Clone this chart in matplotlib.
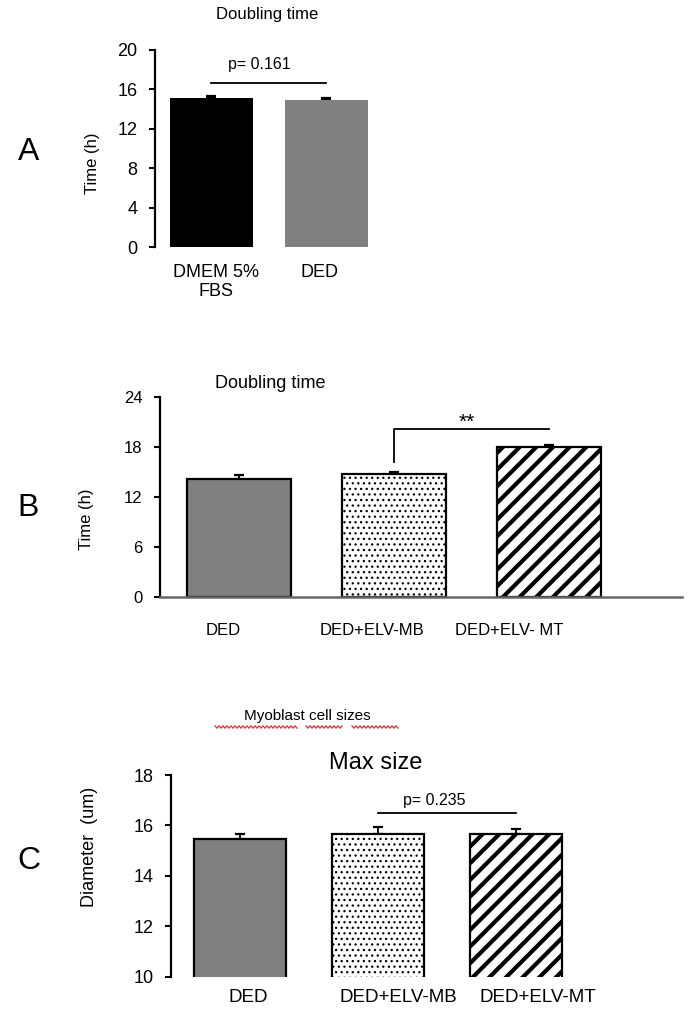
import numpy as np
import matplotlib
matplotlib.use("Agg")
import matplotlib.pyplot as plt
from matplotlib.lines import Line2D

# ---------------- data ----------------
# Panel A
a_title = "Doubling time"
a_categories = ["DMEM 5%\nFBS", "DED"]
a_values = [15.15, 14.9]
a_errors = [0.15, 0.2]
a_yticks = [0, 4, 8, 12, 16, 20]
a_ylabel = "Time (h)"
a_ptext = "p= 0.161"
a_pline_y = 16.6

# Panel B
b_title = "Doubling time"
b_categories = ["DED", "DED+ELV-MB", "DED+ELV- MT"]
b_values = [14.2, 14.76, 17.96]
b_errors = [0.5, 0.25, 0.3]
b_yticks = [0, 6, 12, 18, 24]
b_ylabel = "Time (h)"
b_sig = "**"
b_bracket_low = 16.2
b_bracket_high = 20.2

# Panel C
c_suptitle = "Myoblast cell sizes"
c_title = "Max size"
c_categories = ["DED", "DED+ELV-MB", "DED+ELV-MT"]
c_values = [15.46, 15.67, 15.67]
c_errors = [0.2, 0.25, 0.17]
c_yticks = [10, 12, 14, 16, 18]
c_ylabel = "Diameter  (um)"
c_ptext = "p= 0.235"
c_pline_y = 16.48

# ---------------- figure ----------------
plt.rcParams["font.family"] = ["Liberation Sans", "DejaVu Sans"]
W, H = 688, 1014
fig = plt.figure(figsize=(W / 100, H / 100), dpi=100)
fig.patch.set_facecolor("white")


def fx(x):
    return x / W


def fy(y):
    return 1 - y / H


def style(ax, ylim, yticks, fs):
    for s in ["top", "right", "bottom"]:
        ax.spines[s].set_visible(False)
    ax.spines["left"].set_linewidth(1.6)
    ax.set_ylim(ylim)
    ax.set_yticks(yticks)
    ax.tick_params(axis="y", direction="out", length=4.5, width=1.5,
                   pad=8, labelsize=fs)
    ax.tick_params(axis="x", length=0)
    ax.patch.set_alpha(0)


def errbars(ax, x, vals, errs):
    ax.errorbar(x, vals, yerr=[np.zeros(len(vals)), errs], fmt="none",
                ecolor="black", elinewidth=1.3, capsize=3.5, capthick=1.6,
                zorder=1)


def hatched_bar(ax, x, val, width, hatch, hlw):
    with plt.rc_context({"hatch.linewidth": hlw, "hatch.color": "black"}):
        b = ax.bar(x, val, width=width, color="white", edgecolor="black",
                   linewidth=1.6, hatch=hatch, zorder=2)
    for p in b:
        if hasattr(p, "set_hatch_linewidth"):
            p.set_hatch_linewidth(hlw)
    return b


# ---------- Panel A ----------
axA = fig.add_axes([fx(155), fy(247), 217.5 / W, 197 / H])
xa = np.arange(len(a_categories))
errbars(axA, xa, a_values, a_errors)
axA.bar(xa, a_values, width=0.72, color=["black", "#808080"],
        edgecolor=["black", "#808080"], linewidth=0, zorder=2)
style(axA, (0, 20), a_yticks, 13)
axA.set_xlim(-0.49, 1.4)
axA.set_xticks(xa + np.array([0.04, -0.06]), a_categories, fontsize=13)
axA.tick_params(axis="x", pad=12)
axA.plot([0, 1], [a_pline_y, a_pline_y], color="black", lw=1.3,
         clip_on=False)
axA.text(0.42, 18.5, a_ptext, ha="center", va="center", fontsize=11.5)
axA.set_ylabel(a_ylabel, fontsize=12, va="center")
axA.yaxis.set_label_coords((92 - 155) / 217.5, (247 - 163) / 197)
fig.text(fx(267), fy(15), a_title, ha="center", va="center", fontsize=12)
fig.text(fx(29), fy(152), "A", ha="center", va="center", fontsize=23)

# ---------- Panel B ----------
axB = fig.add_axes([fx(160), fy(597), 521.7 / W, 200 / H])
xb = np.arange(len(b_categories))
errbars(axB, xb, b_values, b_errors)
axB.bar(xb[0], b_values[0], width=0.67, color="#808080", edgecolor="black",
        linewidth=1.6, zorder=2)
hatched_bar(axB, xb[1], b_values[1], 0.67, "...", 0.9)
hatched_bar(axB, xb[2], b_values[2], 0.67, "//", 3.0)
style(axB, (0, 24), b_yticks, 12)
axB.spines["bottom"].set_visible(True)
axB.spines["bottom"].set_color("#666666")
axB.spines["bottom"].set_linewidth(1.8)
axB.set_xlim(-0.51, 2.856)
axB.set_xticks(xb + np.array([-0.1, -0.14, -0.26]), b_categories, fontsize=12)
axB.tick_params(axis="x", pad=19)
axB.plot([1, 1, 2], [b_bracket_low, b_bracket_high, b_bracket_high],
         color="black", lw=1.3, clip_on=False)
axB.text(1.47, 21.0, b_sig, ha="center", va="center", fontsize=15)
axB.set_ylabel(b_ylabel, fontsize=12, va="center")
axB.yaxis.set_label_coords((87 - 160) / 521.7, (597 - 519) / 200)
fig.text(fx(270), fy(383), b_title, ha="center", va="center", fontsize=13)
fig.text(fx(28), fy(508), "B", ha="center", va="center", fontsize=23)

# ---------- Panel C ----------
axC = fig.add_axes([fx(171), fy(976.7), 414 / W, 201.7 / H])
xc = np.arange(len(c_categories))
errbars(axC, xc, c_values, c_errors)
axC.bar(xc[0], c_values[0], width=0.67, color="#808080", edgecolor="black",
        linewidth=1.6, zorder=2)
hatched_bar(axC, xc[1], c_values[1], 0.67, "...", 0.9)
hatched_bar(axC, xc[2], c_values[2], 0.67, "//", 3.0)
style(axC, (10, 18), c_yticks, 13)
axC.set_xlim(-0.5, 2.5)
axC.set_xticks(xc + np.array([0.06, 0.15, 0.16]), c_categories, fontsize=13.5)
axC.tick_params(axis="x", pad=9)
axC.plot([1, 2], [c_pline_y, c_pline_y], color="black", lw=1.3,
         clip_on=False)
axC.text(1.41, 17.0, c_ptext, ha="center", va="center", fontsize=11.5)
axC.set_ylabel(c_ylabel, fontsize=13, va="center")
axC.yaxis.set_label_coords((90 - 171) / 414, (976.7 - 847) / 201.7)
fig.text(fx(376), fy(763), c_title, ha="center", va="center", fontsize=17)
fig.text(fx(307), fy(716), c_suptitle, ha="center", va="center", fontsize=11)
fig.text(fx(29), fy(861), "C", ha="center", va="center", fontsize=23)

# red spell-check squiggles under the sub-title words
for x0, x1 in [(215, 297), (306, 342), (352, 398)]:
    xs = np.arange(x0, x1 + 1, 2.0)
    ys = 727 + np.where((np.arange(len(xs)) % 2) == 0, -1.2, 1.2)
    fig.add_artist(Line2D(fx(xs), fy(ys), color="#e03030", lw=0.9,
                          transform=fig.transFigure))

fig.savefig("out.png", dpi=100, facecolor="white")
